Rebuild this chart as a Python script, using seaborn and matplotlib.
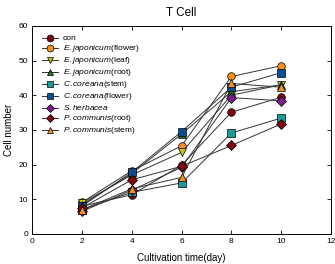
import numpy as np
import pandas as pd
import matplotlib
matplotlib.use('Agg')
import matplotlib.pyplot as plt
import seaborn as sns

days = [2, 4, 6, 8, 10]

labels = [
    'con',
    r'$\it{E.japonicum}$(flower)',
    r'$\it{E.japonicum}$(leaf)',
    r'$\it{E.japonicum}$(root)',
    r'$\it{C.coreana}$(stem)',
    r'$\it{C.coreana}$(flower)',
    r'$\it{S.herbacea}$',
    r'$\it{P.communis}$(root)',
    r'$\it{P.communis}$(stem)',
]

con = [8.0, 11.3, 19.8, 35.1, 39.4]
ej_flower = [9.1, 18.2, 25.4, 45.4, 48.5]
ej_leaf = [8.9, 17.0, 23.5, 40.0, 43.0]
ej_root = [8.4, 17.4, 28.8, 41.0, 43.0]
cc_stem = [7.0, 12.0, 14.7, 29.1, 33.4]
cc_flower = [8.0, 17.8, 29.5, 42.3, 46.5]
s_herbacea = [6.5, 12.6, 19.2, 39.3, 38.4]
pc_root = [7.5, 15.6, 19.5, 25.5, 31.7]
pc_stem = [7.0, 13.0, 16.3, 43.4, 42.3]

series = [con, ej_flower, ej_leaf, ej_root, cc_stem, cc_flower, s_herbacea, pc_root, pc_stem]
colors = ['#7a0a12', '#f5901e', '#c8c21a', '#1f7a25', '#1f9898', '#0e4f8f', '#7d1a8c', '#7d0a12', '#f0902a']
markers = ['o', 'o', 'v', '^', 's', 's', 'D', 'D', '^']

plt.rcParams['font.family'] = ['Liberation Sans', 'DejaVu Sans']
plt.rcParams['mathtext.fontset'] = 'custom'
plt.rcParams['mathtext.it'] = 'Liberation Sans:italic'
plt.rcParams['mathtext.rm'] = 'Liberation Sans'

fig = plt.figure(figsize=(3.35, 2.64), dpi=100)
ax = fig.add_axes([0.096, 0.114, 0.892, 0.788])

for lab, vals, c, m in zip(labels, series, colors, markers):
    df = pd.DataFrame({'day': days, 'cells': vals})
    ms = 5.0 if m == 'D' else 5.5
    sns.lineplot(data=df, x='day', y='cells', ax=ax, color='#333333', linewidth=0.7,
                 marker=m, markersize=ms, markerfacecolor=c, markeredgecolor='black',
                 markeredgewidth=0.5, label=lab)

ax.set_xlim(0, 12)
ax.set_ylim(0, 60)
ax.set_xticks([0, 2, 4, 6, 8, 10, 12])
ax.set_yticks([0, 10, 20, 30, 40, 50, 60])
ax.tick_params(direction='in', top=True, right=True, labelsize=6, length=3, width=0.6, pad=3)
for s in ax.spines.values():
    s.set_linewidth(0.7)

ax.set_title('T Cell', fontsize=8.5, pad=7)
ax.set_xlabel('Cultivation time(day)', fontsize=7, labelpad=6)
ax.set_ylabel('Cell number', fontsize=7, labelpad=3)

leg = ax.legend(loc='upper left', frameon=False, fontsize=6, handlelength=2.0,
                labelspacing=0.12, borderaxespad=0.4, handletextpad=0.5,
                markerscale=0.9, bbox_to_anchor=(0.01, 0.99))

fig.savefig('out.png', dpi=100)
